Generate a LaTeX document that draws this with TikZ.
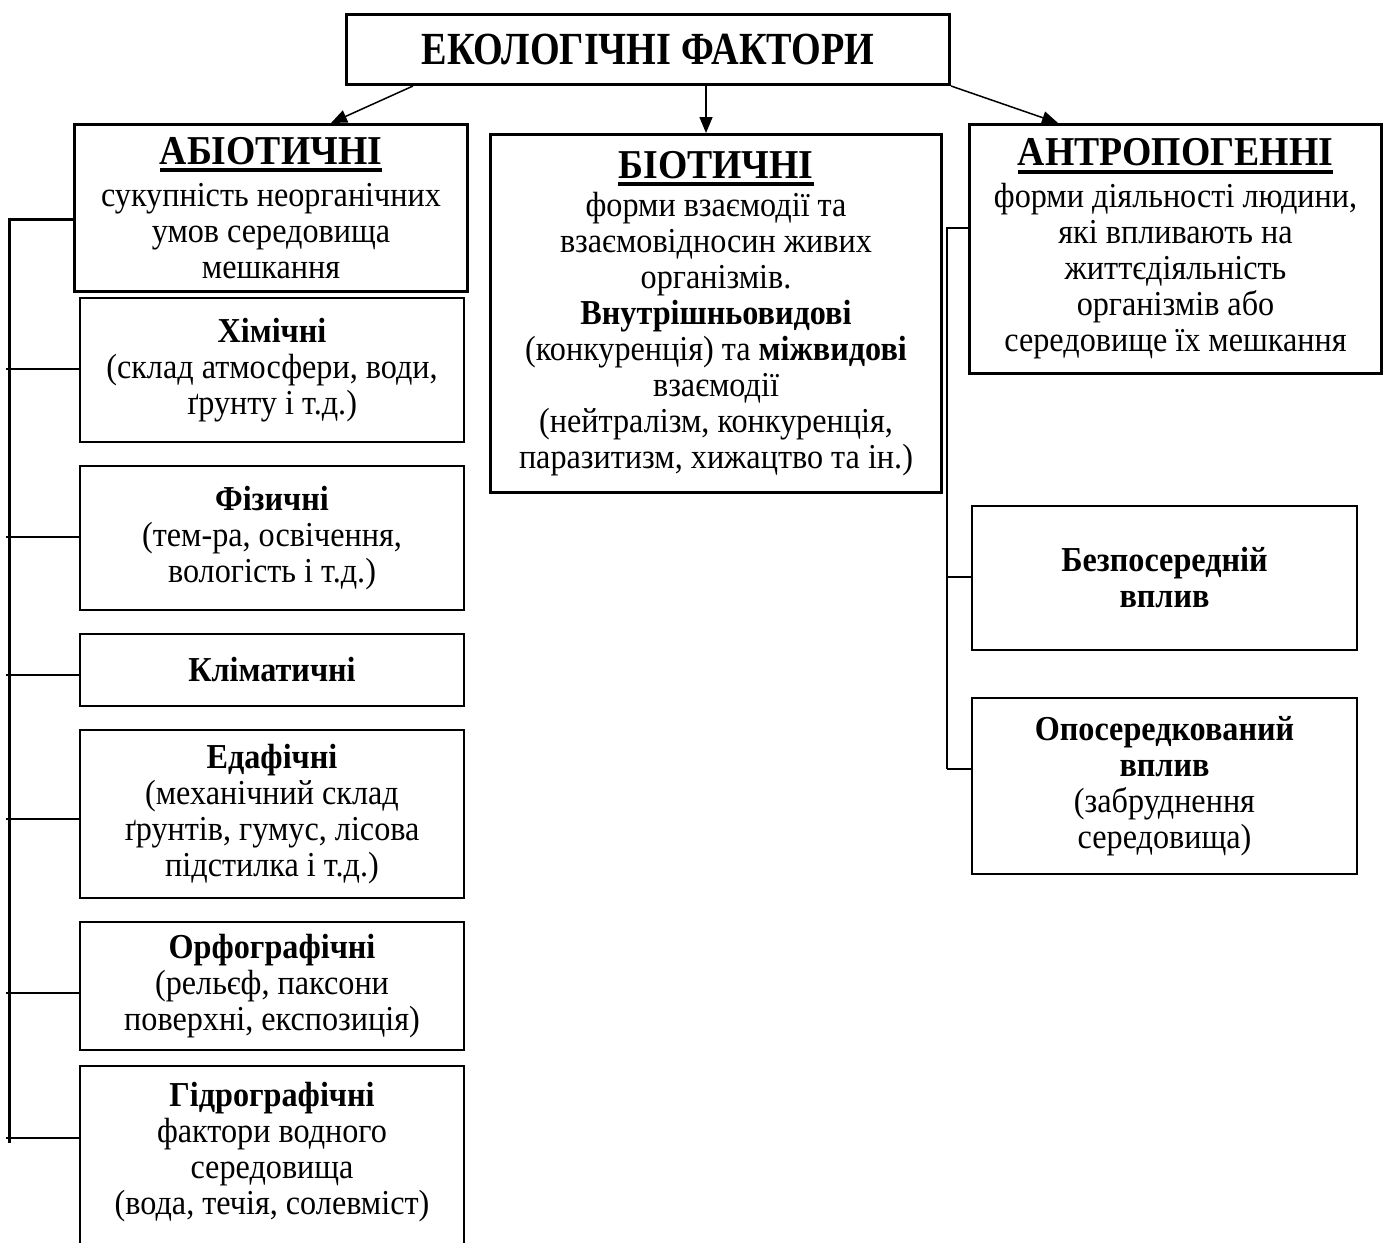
\documentclass[tikz,border=0pt]{standalone}
\usepackage{fontspec}
\setmainfont{Liberation Serif}[FakeStretch=0.92]
\newfontfamily\titlefont{Liberation Serif}[FakeStretch=0.83]
\usetikzlibrary{arrows.meta,calc}
\newcommand{\hd}[1]{\setbox0\hbox{\fontsize{20.5}{22}\selectfont\bfseries #1}\leavevmode\rlap{\vrule width\wd0 height -2pt depth 4pt}\box0}
\begin{document}
\begin{tikzpicture}[x=0.5pt,y=-0.5pt,
  box/.style={draw, line width=1.5pt, rectangle, align=center, inner sep=0pt, anchor=north west,
    font=\fontsize{17.5}{18}\selectfont},
  sub/.style={box, line width=1pt},
  arr/.style={line width=0.75pt, -{Triangle[length=8pt,width=6.5pt]}},
  spine/.style={line width=1.5pt},
  rspine/.style={line width=1pt},
  tick/.style={line width=1pt}]
\useasboundingbox (0,0) rectangle (1384,1242);

\node[box, minimum width=301.5pt, minimum height=35pt, font=\titlefont\fontsize{23}{26}\selectfont\bfseries] (top) at (345,13) {ЕКОЛОГІЧНІ ФАКТОРИ};

\node[box, minimum width=196.5pt, minimum height=83.5pt] (abio) at (73,123)
  {\hd{АБІОТИЧНІ}\\[3pt] сукупність неорганічних\\ умов середовища\\ мешкання};
\node[box, minimum width=225.5pt, minimum height=179pt] (bio) at (489,133)
  {\hd{БІОТИЧНІ}\\[1pt] форми взаємодії та\\ взаємовідносин живих\\ організмів.\\ \textbf{Внутрішньовидові}\\ (конкуренція) та \textbf{міжвидові}\\ взаємодії\\ (нейтралізм, конкуренція,\\ паразитизм, хижацтво та ін.)};
\node[box, minimum width=206pt, minimum height=124.5pt] (antro) at (968,123)
  {\hd{АНТРОПОГЕННІ}\\[3pt] форми діяльності людини,\\ які впливають на\\ життєдіяльність\\ організмів або\\ середовище їх мешкання};

\node[sub, minimum width=192pt, minimum height=72pt] (chem) at (79,297)
  {\textbf{Хімічні}\\ (склад атмосфери, води,\\ ґрунту і т.д.)};
\node[sub, minimum width=192pt, minimum height=72pt] (phys) at (79,465)
  {\textbf{Фізичні}\\ (тем-ра, освічення,\\ вологість і т.д.)};
\node[sub, minimum width=192pt, minimum height=36pt] (clim) at (79,633)
  {\textbf{Кліматичні}};
\node[sub, minimum width=192pt, minimum height=84pt] (edaph) at (79,729)
  {\textbf{Едафічні}\\ (механічний склад\\ ґрунтів, гумус, лісова\\ підстилка і т.д.)};
\node[sub, minimum width=192pt, minimum height=64pt] (orog) at (79,921)
  {\textbf{Орфографічні}\\ (рельєф, паксони\\ поверхні, експозиція)};
\node[sub, minimum width=192pt, minimum height=100pt] (hydro) at (79,1065)
  {\textbf{Гідрографічні}\\ фактори водного\\ середовища\\ (вода, течія, солевміст)\\ \mbox{}};

\node[sub, minimum width=192.5pt, minimum height=72pt] (direct) at (971,505)
  {\textbf{Безпосередній}\\ \textbf{вплив}};
\node[sub, minimum width=192.5pt, minimum height=88pt] (indirect) at (971,697)
  {\textbf{Опосередкований}\\ \textbf{вплив}\\ (забруднення\\ середовища)};

% arrows from the title box
\draw[arr] ($(top.south west)+(68,0)$) -- ($(abio.north west)+(258,0)$);
\draw[arr] ($(top.south west)+(361,0)$) -- ($(bio.north west)+(217,0)$);
\draw[arr] (top.south east) -- ($(antro.north west)+(90,0)$);

% left bracket
\coordinate (Ltop) at (9,219);
\coordinate (Lbot) at (9,1143);
\coordinate (Ltick) at (6,0);
\draw[spine] ($(abio.north west)+(0,96)$) -- (Ltop) -- (Lbot);
\foreach \n/\d in {chem/72, phys/72, clim/42, edaph/90, orog/72, hydro/73}{
  \coordinate (t\n) at ($(\n.north west)+(0,\d)$);
  \draw[tick] (t\n) -- (t\n -| Ltick);
}

% right bracket
\coordinate (Rtop) at (947,228);
\coordinate (Rbot) at (947,769);
\draw[rspine] ($(antro.north west)+(0,105)$) -- (Rtop) -- (Rbot);
\foreach \n/\d in {direct/72, indirect/72}{
  \coordinate (t\n) at ($(\n.north west)+(0,\d)$);
  \draw[tick] (t\n) -- (t\n -| Rtop);
}
\end{tikzpicture}
\end{document}
